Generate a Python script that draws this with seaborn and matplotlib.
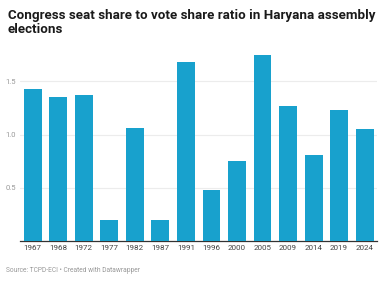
import pandas as pd
import numpy as np
import matplotlib.pyplot as plt
import seaborn as sns

sns.set_style('white')
plt.rcParams['font.family'] = ['Roboto', 'DejaVu Sans']

years = ['1967', '1968', '1972', '1977', '1982', '1987', '1991',
         '1996', '2000', '2005', '2009', '2014', '2019', '2024']
ratio = [1.43, 1.35, 1.37, 0.19, 1.06, 0.19, 1.68,
         0.48, 0.75, 1.75, 1.27, 0.81, 1.23, 1.05]

df = pd.DataFrame({'Year': years, 'Ratio': ratio})

fig = plt.figure(figsize=(3.84, 2.81), dpi=100)
ax = fig.add_axes([20/384, 1-240.5/281, 357.4/384, 190.8/281])

sns.barplot(data=df, x='Year', y='Ratio', color='#18a1cd', saturation=1,
            width=0.7, edgecolor='none', ax=ax, zorder=3)

ax.set_xlim(-0.5, 13.5)
ax.set_ylim(0, 1.8)
ax.set_yticks([0.5, 1.0, 1.5])
ax.set_yticklabels(['0.5', '1.0', '1.5'])
ax.yaxis.grid(True, color='#ececec', linewidth=0.8, zorder=0)
ax.set_xlabel('')
ax.set_ylabel('')
for s in ['top', 'right', 'left']:
    ax.spines[s].set_visible(False)
ax.spines['bottom'].set_color('#333333')
ax.spines['bottom'].set_linewidth(0.9)
ax.tick_params(axis='y', length=0, pad=3, labelsize=5.5, labelcolor='#999999')
ax.tick_params(axis='x', length=0, pad=3, labelsize=5.8, labelcolor='#444444')

fig.text(8/384, 1-9/281, 'Congress seat share to vote share ratio in Haryana assembly\nelections',
         fontsize=9.6, fontweight='bold', color='#1a1a1a', va='top', ha='left',
         linespacing=1.12)
fig.text(6/384, 1-271/281, 'Source: TCPD-ECI \u2022 Created with Datawrapper',
         fontsize=4.8, color='#999999', va='center', ha='left')

fig.savefig('out.png', dpi=100)
